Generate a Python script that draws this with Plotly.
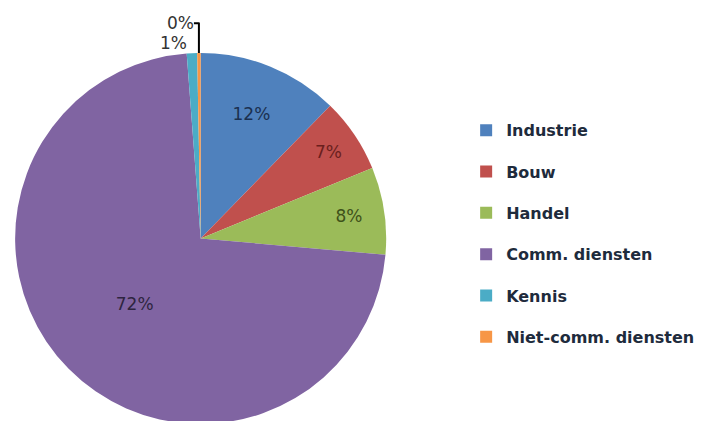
import plotly.graph_objects as go

categories = ["Industrie", "Bouw", "Handel", "Comm. diensten", "Kennis", "Niet-comm. diensten"]
values = [12.3, 6.5, 7.6, 72.4, 0.9, 0.3]
text_labels = ["12%", "7%", "8%", "72%", "1%", "0%"]
colors = ["#4F81BD", "#C0504D", "#9BBB59", "#8064A2", "#4BACC6", "#F79646"]
text_colors = ["#1B3050", "#6A1F1D", "#3E5119", "#2E2440", "#333333", "#333333"]
positions = ["inside", "inside", "inside", "inside", "outside", "outside"]

W, H = 710, 421
fig = go.Figure()
fig.add_trace(go.Pie(
    labels=categories, values=values, text=text_labels, textinfo="text",
    textposition=positions, sort=False, direction="clockwise", rotation=0,
    marker=dict(colors=colors, line=dict(width=0)),
    textfont=dict(family="DejaVu Sans", size=17, color=text_colors),
    insidetextorientation="horizontal",
    domain=dict(x=[0.0, 376.5 / W], y=[0.0, 1 - 40 / H]),
    showlegend=False, hoverinfo="label+percent",
))
for c, col in zip(categories, colors):
    fig.add_trace(go.Scatter(
        x=[None], y=[None], mode="markers", name=c, legendgroup=c,
        marker=dict(symbol="square", size=9, color=col),
    ))
fig.update_layout(
    width=W, height=H, margin=dict(l=0, r=0, t=0, b=0),
    paper_bgcolor="white", plot_bgcolor="white",
    xaxis=dict(visible=False), yaxis=dict(visible=False),
    legend=dict(x=456 / W, y=1 - 102 / H, xanchor="left", yanchor="top",
                tracegroupgap=17.5,
                font=dict(family="DejaVu Sans", size=16, color="#1E2B3C", weight="bold"),
                itemsizing="constant"),
)
fig.write_html("out.html")
